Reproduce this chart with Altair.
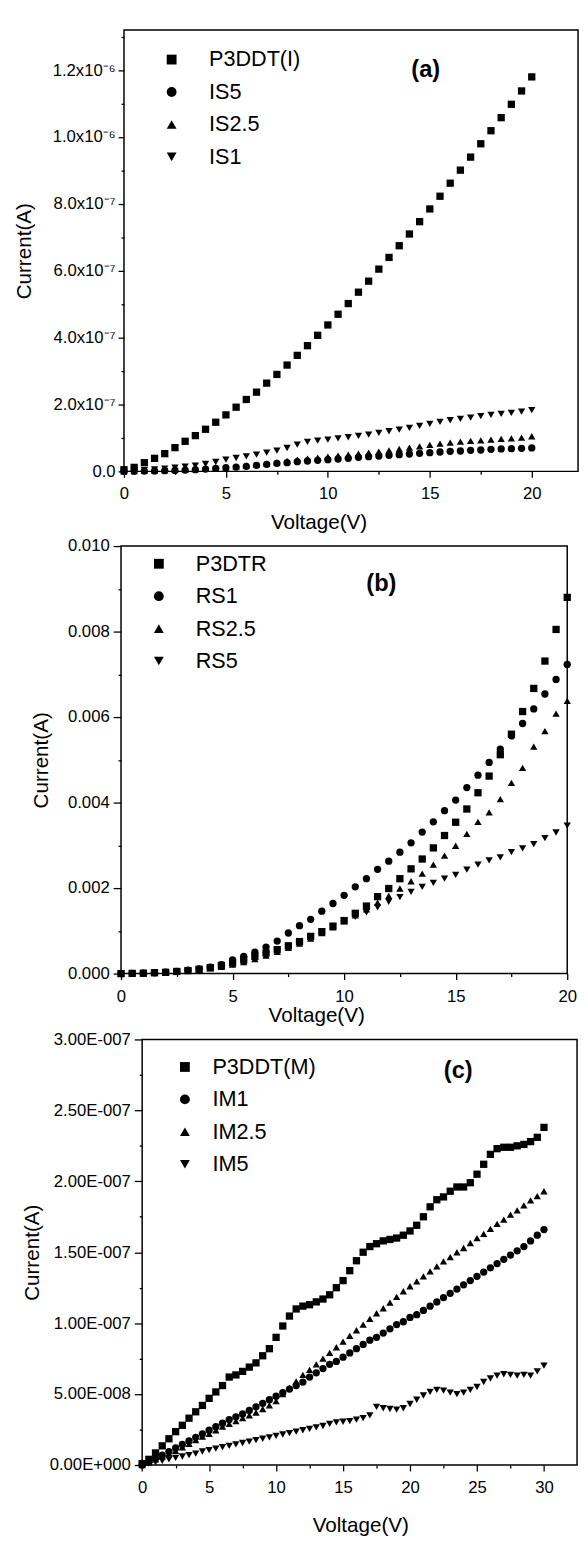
import json
import altair as alt
import pandas as pd

FONT = "Liberation Sans"
SHAPES = ["square", "circle", "triangle-up", "triangle-down"]
X_TITLE = "Voltage(V)"
Y_TITLE = "Current(A)"

# ---------------- panel (a) ----------------
A_SERIES = ["P3DDT(I)", "IS5", "IS2.5", "IS1"]
A_UNIT = 1e-7
A_V = [i * 0.5 for i in range(41)]
A_P3DDT = [0.05, 0.12, 0.26, 0.39, 0.53, 0.71, 0.90, 1.07, 1.26, 1.47, 1.69, 1.92, 2.15, 2.37,
           2.64, 2.90, 3.18, 3.47, 3.76, 4.07, 4.38, 4.70, 5.02, 5.36, 5.69, 6.05, 6.40, 6.75,
           7.10, 7.47, 7.85, 8.23, 8.62, 9.01, 9.40, 9.80, 10.19, 10.58, 10.98, 11.38, 11.80]
A_IS5 = [0.0, 0.005, 0.01, 0.015, 0.02, 0.03, 0.04, 0.05, 0.07, 0.09, 0.11, 0.13, 0.15, 0.18,
         0.21, 0.24, 0.26, 0.29, 0.31, 0.33, 0.35, 0.37, 0.39, 0.42, 0.44, 0.46, 0.48, 0.50,
         0.52, 0.54, 0.56, 0.58, 0.60, 0.61, 0.63, 0.64, 0.66, 0.67, 0.68, 0.69, 0.70]
A_IS25 = [0.0, 0.01, 0.02, 0.03, 0.04, 0.05, 0.06, 0.07, 0.09, 0.10, 0.12, 0.14, 0.17, 0.20,
          0.23, 0.27, 0.31, 0.35, 0.38, 0.41, 0.44, 0.47, 0.50, 0.53, 0.56, 0.59, 0.63, 0.67,
          0.71, 0.75, 0.79, 0.83, 0.86, 0.89, 0.91, 0.93, 0.95, 0.97, 0.99, 1.01, 1.05]
A_IS1 = [0.0, 0.02, 0.04, 0.06, 0.08, 0.11, 0.14, 0.17, 0.22, 0.28, 0.35, 0.40, 0.45, 0.50,
         0.56, 0.62, 0.70, 0.80, 0.88, 0.92, 0.95, 0.99, 1.02, 1.06, 1.10, 1.15, 1.20, 1.25,
         1.30, 1.36, 1.42, 1.48, 1.53, 1.57, 1.61, 1.65, 1.69, 1.72, 1.75, 1.79, 1.83]
A_X_TICKS = [0, 5, 10, 15, 20]
A_X_MINOR = [2.5, 7.5, 12.5, 17.5]
A_Y_TICKS = [0, 2e-7, 4e-7, 6e-7, 8e-7, 1e-6, 1.2e-6]
A_Y_LABELS = ["0.0", "2.0x10\u207b\u2077", "4.0x10\u207b\u2077", "6.0x10\u207b\u2077",
              "8.0x10\u207b\u2077", "1.0x10\u207b\u2076", "1.2x10\u207b\u2076"]
A_Y_MINOR = [1e-7, 3e-7, 5e-7, 7e-7, 9e-7, 1.1e-6, 1.3e-6]
A_X_MAX = 22.27
A_Y_MAX = 1.32e-6
A_TAG = ["(a)"]
A_TAG_X = [14.8]
A_TAG_Y = [1.2e-6]

# ---------------- panel (b) ----------------
B_SERIES = ["P3DTR", "RS1", "RS2.5", "RS5"]
B_UNIT = 1e-3
B_V = [i * 0.5 for i in range(41)]
B_P3DTR = [0.0, 0.005, 0.01, 0.02, 0.03, 0.05, 0.07, 0.10, 0.14, 0.19, 0.25, 0.32, 0.40, 0.48,
           0.56, 0.65, 0.75, 0.87, 0.98, 1.11, 1.24, 1.41, 1.58, 1.80, 1.99, 2.22, 2.45, 2.68,
           2.94, 3.23, 3.54, 3.85, 4.23, 4.62, 5.12, 5.60, 6.13, 6.67, 7.31, 8.05, 8.80]
B_RS1 = [0.0, 0.005, 0.01, 0.02, 0.035, 0.05, 0.08, 0.11, 0.15, 0.21, 0.32, 0.40, 0.50, 0.62,
         0.76, 0.95, 1.12, 1.27, 1.46, 1.64, 1.83, 2.03, 2.22, 2.44, 2.63, 2.84, 3.06, 3.31,
         3.55, 3.81, 4.06, 4.35, 4.64, 4.94, 5.25, 5.56, 5.85, 6.19, 6.54, 6.88, 7.23]
B_RS25 = [0.0, 0.005, 0.01, 0.02, 0.03, 0.045, 0.065, 0.09, 0.12, 0.16, 0.21, 0.27, 0.34, 0.42,
          0.51, 0.60, 0.70, 0.82, 0.95, 1.08, 1.22, 1.36, 1.50, 1.66, 1.82, 1.99, 2.16, 2.34,
          2.55, 2.76, 2.99, 3.27, 3.55, 3.77, 4.08, 4.46, 4.81, 5.31, 5.67, 6.08, 6.38]
B_RS5 = [0.0, 0.005, 0.01, 0.02, 0.03, 0.045, 0.065, 0.09, 0.12, 0.16, 0.21, 0.27, 0.34, 0.42,
         0.51, 0.61, 0.73, 0.86, 0.98, 1.11, 1.24, 1.33, 1.43, 1.55, 1.68, 1.79, 1.91, 2.03,
         2.12, 2.22, 2.31, 2.43, 2.55, 2.65, 2.72, 2.84, 2.93, 3.03, 3.17, 3.30, 3.46]
B_X_TICKS = [0, 5, 10, 15, 20]
B_X_MINOR = [2.5, 7.5, 12.5, 17.5]
B_Y_TICKS = [0, 0.002, 0.004, 0.006, 0.008, 0.010]
B_Y_LABELS = ["0.000", "0.002", "0.004", "0.006", "0.008", "0.010"]
B_Y_MINOR = [0.001, 0.003, 0.005, 0.007, 0.009]
B_X_MAX = 20
B_Y_MAX = 0.010
B_TAG = ["(b)"]
B_TAG_X = [11.67]
B_TAG_Y = [0.0091]

# ---------------- panel (c) ----------------
C_SERIES = ["P3DDT(M)", "IM1", "IM2.5", "IM5"]
C_UNIT = 1e-8
C_V = [i * 0.5 for i in range(61)]
C_P3DDT = [0.1, 0.4, 0.85, 1.35, 1.85, 2.35, 2.8, 3.3, 3.75, 4.2, 4.7, 5.15, 5.6, 6.2, 6.35,
           6.6, 6.9, 7.2, 7.7, 8.2, 9.0, 9.8, 10.5, 11.0, 11.2, 11.3, 11.5, 11.7, 12.0, 12.5,
           13.0, 13.7, 14.4, 15.0, 15.4, 15.6, 15.8, 15.9, 16.0, 16.2, 16.5, 16.9, 17.5, 18.2,
           18.7, 18.9, 19.3, 19.6, 19.6, 19.9, 20.5, 21.2, 21.9, 22.3, 22.4, 22.4, 22.5, 22.6,
           22.8, 23.1, 23.8]
C_IM1 = [0.0, 0.2, 0.45, 0.7, 0.95, 1.2, 1.45, 1.7, 1.95, 2.2, 2.45, 2.7, 2.95, 3.2, 3.4, 3.6,
         3.85, 4.1, 4.35, 4.6, 4.85, 5.1, 5.35, 5.6, 5.85, 6.2, 6.5, 6.8, 7.1, 7.3, 7.6, 7.9,
         8.2, 8.5, 8.8, 9.0, 9.3, 9.6, 9.9, 10.1, 10.4, 10.6, 10.9, 11.2, 11.5, 11.8, 12.1,
         12.4, 12.7, 13.0, 13.3, 13.6, 13.9, 14.2, 14.5, 14.8, 15.1, 15.4, 15.8, 16.2, 16.6]
C_IM25 = [0.0, 0.2, 0.4, 0.6, 0.8, 1.0, 1.25, 1.5, 1.75, 2.0, 2.2, 2.45, 2.7, 2.9, 3.1, 3.3,
          3.5, 3.7, 3.95, 4.2, 4.5, 5.0, 5.45, 5.9, 6.35, 6.7, 7.1, 7.5, 7.9, 8.3, 8.7, 9.1,
          9.5, 9.9, 10.3, 10.7, 11.05, 11.45, 11.85, 12.25, 12.6, 12.95, 13.3, 13.65, 14.0,
          14.35, 14.65, 15.0, 15.3, 15.65, 16.0, 16.3, 16.65, 17.0, 17.3, 17.65, 17.95, 18.3,
          18.65, 18.95, 19.3]
C_IM5 = [0.0, 0.1, 0.2, 0.3, 0.4, 0.5, 0.6, 0.7, 0.8, 0.95, 1.05, 1.15, 1.25, 1.35, 1.45, 1.55,
         1.65, 1.75, 1.85, 1.95, 2.05, 2.15, 2.25, 2.35, 2.45, 2.55, 2.65, 2.75, 2.9, 3.0, 3.05,
         3.1, 3.2, 3.3, 3.5, 4.1, 4.0, 3.95, 3.9, 4.0, 4.3, 4.6, 4.9, 5.15, 5.3, 5.25, 5.1, 5.0,
         5.1, 5.3, 5.5, 5.85, 6.1, 6.3, 6.4, 6.35, 6.3, 6.35, 6.3, 6.6, 7.0]
C_X_TICKS = [0, 5, 10, 15, 20, 25, 30]
C_X_MINOR = [2.5, 7.5, 12.5, 17.5, 22.5, 27.5]
C_Y_TICKS = [0, 5e-8, 1e-7, 1.5e-7, 2e-7, 2.5e-7, 3e-7]
C_Y_LABELS = ["0.00E+000", "5.00E-008", "1.00E-007", "1.50E-007", "2.00E-007", "2.50E-007",
              "3.00E-007"]
C_Y_MINOR = [2.5e-8, 7.5e-8, 1.25e-7, 1.75e-7, 2.25e-7, 2.75e-7]
C_X_MAX = 32.47
C_Y_MAX = 3e-7
C_TAG = ["(c)"]
C_TAG_X = [23.6]
C_TAG_Y = [2.78e-7]


def long_df(v, names, series, unit):
    rows = []
    for name, vals in zip(names, series):
        for x, y in zip(v, vals):
            rows.append({"V": x, "I": y * unit, "series": name})
    return pd.DataFrame(rows)


def label_expr(values, labels):
    return "%s[indexof(%s, datum.value)]" % (json.dumps(labels, ensure_ascii=False),
                                              json.dumps(values))


def make_panel(df, p):
    xs = alt.Scale(domain=p["x_domain"], nice=False, zero=False)
    ys = alt.Scale(domain=p["y_domain"], nice=False, zero=False)
    frame_df = pd.DataFrame({"x0": [0.0], "x1": [p["x_max"]], "y0": [0.0], "y1": [p["y_max"]]})
    frame = alt.Chart(frame_df).mark_rect(fillOpacity=0, stroke="black", strokeWidth=1.5).encode(
        x=alt.X("x0:Q", scale=xs, axis=None), x2="x1:Q",
        y=alt.Y("y0:Q", scale=ys, axis=None), y2="y1:Q")
    minor = alt.Chart(df).mark_point(opacity=0).encode(
        x=alt.X("V:Q", scale=xs, axis=alt.Axis(
            orient="bottom", values=p["x_minor"], labels=False, domain=False, tickSize=3,
            title=None, grid=False)),
        y=alt.Y("I:Q", scale=ys, axis=alt.Axis(
            orient="left", values=p["y_minor"], labels=False, domain=False, tickSize=3,
            title=None, grid=False, offset=p["y_offset"])))
    pts = alt.Chart(df).mark_point(filled=True, size=55, opacity=1, color="black",
                                   strokeWidth=0).encode(
        x=alt.X("V:Q", scale=xs, axis=alt.Axis(
            orient="bottom", values=p["x_ticks"], format="d", title=X_TITLE,
            titleX=p["xt_x"], titleY=p["xt_y"], titleBaseline="middle", domain=False,
            tickSize=6, labelPadding=9, labelFlush=False, labelOverlap=False, grid=False)),
        y=alt.Y("I:Q", scale=ys, axis=alt.Axis(
            orient="left", values=p["y_ticks"], labelExpr=label_expr(p["y_ticks"], p["y_labels"]),
            title=Y_TITLE, titleX=p["yt_x"], titleBaseline="middle", domain=False,
            tickSize=p["y_tick"], labelPadding=p["y_pad"], labelFlush=False,
            labelOverlap=False, grid=False, offset=p["y_offset"])),
        shape=alt.Shape("series:N", scale=alt.Scale(domain=p["series"], range=SHAPES),
                        legend=alt.Legend(
                            orient="none", legendX=p["lx"], legendY=p["ly"], title=None,
                            labelFont=FONT, labelFontSize=22, labelColor="black",
                            symbolSize=100, symbolFillColor="black", symbolStrokeWidth=0,
                            symbolOpacity=1, labelOffset=p["lo"], rowPadding=p["rp"],
                            padding=0, labelLimit=0)))
    tag_df = pd.DataFrame({"x": p["tag_x"], "y": p["tag_y"], "t": p["tag"]})
    tag = alt.Chart(tag_df).mark_text(font=FONT, fontSize=24, fontWeight="bold",
                                      color="black").encode(
        x=alt.X("x:Q", scale=xs, axis=None), y=alt.Y("y:Q", scale=ys, axis=None), text="t:N")
    return alt.layer(frame, minor, pts, tag).resolve_axis(
        x="independent", y="independent").properties(width=p["width"], height=p["height"])


df_a = long_df(A_V, A_SERIES, [A_P3DDT, A_IS5, A_IS25, A_IS1], A_UNIT)
df_b = long_df(B_V, B_SERIES, [B_P3DTR, B_RS1, B_RS25, B_RS5], B_UNIT)
df_c = long_df(C_V, C_SERIES, [C_P3DDT, C_IM1, C_IM25, C_IM5], C_UNIT)

pa = make_panel(df_a, dict(
    series=A_SERIES, x_domain=[-0.145, A_X_MAX], y_domain=[0, A_Y_MAX], x_max=A_X_MAX,
    y_max=A_Y_MAX, x_ticks=A_X_TICKS, x_minor=A_X_MINOR, y_ticks=A_Y_TICKS,
    y_labels=A_Y_LABELS, y_minor=A_Y_MINOR, y_offset=-3, y_tick=6, y_pad=3,
    xt_x=201, xt_y=52, yt_x=-101, lx=40.5, ly=19, lo=27, rp=11,
    tag=A_TAG, tag_x=A_TAG_X, tag_y=A_TAG_Y, width=465, height=449))
pb = make_panel(df_b, dict(
    series=B_SERIES, x_domain=[0, B_X_MAX], y_domain=[0, B_Y_MAX], x_max=B_X_MAX,
    y_max=B_Y_MAX, x_ticks=B_X_TICKS, x_minor=B_X_MINOR, y_ticks=B_Y_TICKS,
    y_labels=B_Y_LABELS, y_minor=B_Y_MINOR, y_offset=0, y_tick=8, y_pad=4,
    xt_x=198.6, xt_y=43, yt_x=-81, lx=27.5, ly=7, lo=26.5, rp=11,
    tag=B_TAG, tag_x=B_TAG_X, tag_y=B_TAG_Y, width=454, height=435))
pc = make_panel(df_c, dict(
    series=C_SERIES, x_domain=[-1.577, C_X_MAX], y_domain=[0, C_Y_MAX], x_max=C_X_MAX,
    y_max=C_Y_MAX, x_ticks=C_X_TICKS, x_minor=C_X_MINOR, y_ticks=C_Y_TICKS,
    y_labels=C_Y_LABELS, y_minor=C_Y_MINOR, y_offset=-21.5, y_tick=8, y_pad=4,
    xt_x=243.5, xt_y=62, yt_x=-111.5, lx=54, ly=17, lo=17, rp=11,
    tag=C_TAG, tag_x=C_TAG_X, tag_y=C_TAG_Y, width=464, height=433))

chart = alt.vconcat(pa, pb, pc, spacing=3).resolve_scale(
    shape="independent"
).resolve_legend(
    shape="independent"
).properties(
    padding={"left": 5, "top": 7, "right": 0, "bottom": 0}
).configure(
    font=FONT
).configure_view(
    stroke="transparent"
).configure_axis(
    labelFont=FONT, labelFontSize=17, labelColor="black", titleFont=FONT, titleFontSize=21,
    titleFontWeight="normal", titleColor="black", tickColor="black", tickWidth=1.3
)

chart.save("out.html", embed_options={"renderer": "svg", "actions": False})
